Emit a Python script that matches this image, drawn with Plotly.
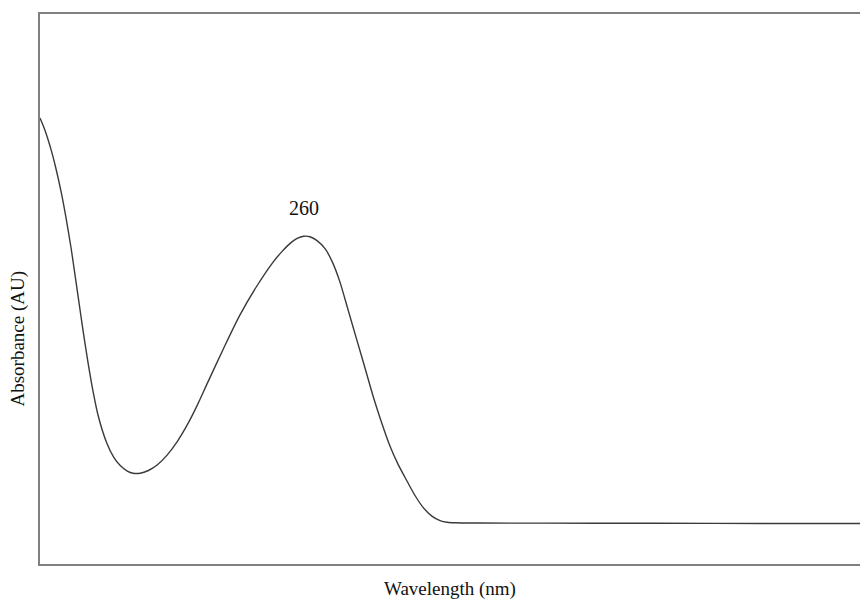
import plotly.graph_objects as go

# Wavelength (nm) and absorbance (arbitrary units)
wavelength_nm = [215.0, 215.8, 216.9, 217.7, 218.6, 219.4, 220.3, 221.0, 221.5, 222.3,
                 223.2, 224.0, 224.9, 226.4, 227.6, 228.7, 229.9, 230.9, 232.1, 233.5,
                 235.0, 236.7, 238.4, 240.3, 242.0, 243.5, 246.3, 249.1, 252.0, 254.8,
                 256.3, 257.7, 258.9, 260.0, 261.1, 262.3, 263.7, 265.0, 266.2, 267.6,
                 269.1, 270.5, 271.9, 273.2, 274.8, 276.1, 277.7, 279.0, 280.4, 281.9,
                 283.3, 284.5, 285.9, 290.0, 310.0, 330.0, 356.0]
absorbance = [0.811, 0.790, 0.753, 0.720, 0.677, 0.632, 0.575, 0.524, 0.487, 0.428,
              0.366, 0.317, 0.271, 0.220, 0.194, 0.179, 0.169, 0.165, 0.165, 0.170,
              0.180, 0.198, 0.222, 0.256, 0.292, 0.327, 0.391, 0.452, 0.505, 0.549,
              0.568, 0.583, 0.592, 0.596, 0.595, 0.588, 0.573, 0.547, 0.513, 0.462,
              0.407, 0.356, 0.304, 0.261, 0.213, 0.182, 0.150, 0.125, 0.103, 0.087,
              0.079, 0.0760, 0.0750, 0.0745, 0.0742, 0.0738, 0.0735]

peak_nm = 260.0
peak_label = "260"
x_title = "Wavelength (nm)"
y_title = "Absorbance (AU)"

serif = "Liberation Serif, Times New Roman, serif"

fig = go.Figure()
fig.add_trace(go.Scatter(
    x=wavelength_nm, y=absorbance, mode="lines",
    line=dict(color="#3a3a3a", width=1.4, shape="spline", smoothing=0.8),
    hoverinfo="skip", showlegend=False,
))

fig.add_annotation(x=peak_nm, y=0.647, xref="x", yref="y", text=peak_label,
                   showarrow=False, font=dict(family=serif, size=20, color="#111"),
                   xanchor="center", yanchor="middle")
fig.add_annotation(x=0.5, y=-0.045, xref="paper", yref="paper", text=x_title,
                   showarrow=False, font=dict(family=serif, size=19, color="#111"),
                   xanchor="center", yanchor="middle")
fig.add_annotation(x=-0.028, y=0.41, xref="paper", yref="paper", text=y_title,
                   textangle=-90, showarrow=False,
                   font=dict(family=serif, size=19, color="#111"),
                   xanchor="center", yanchor="middle")

fig.update_layout(
    width=860, height=599,
    margin=dict(l=40, r=0, t=14, b=35),
    paper_bgcolor="white", plot_bgcolor="white",
    hovermode=False,
    xaxis=dict(range=[215, 355], showgrid=False, zeroline=False, showticklabels=False,
               ticks="", showline=True, linecolor="#808080", linewidth=2, mirror=True),
    yaxis=dict(range=[0, 1], showgrid=False, zeroline=False, showticklabels=False,
               ticks="", showline=True, linecolor="#808080", linewidth=2, mirror=False),
)

# remove the default page margin so the 860x599 figure fills the window exactly
page_fix = ("document.body.style.margin='0';"
            "document.body.style.overflow='hidden';"
            "document.documentElement.style.overflow='hidden';")
fig.write_html("out.html", post_script=page_fix,
               config={"displayModeBar": False, "staticPlot": True})
